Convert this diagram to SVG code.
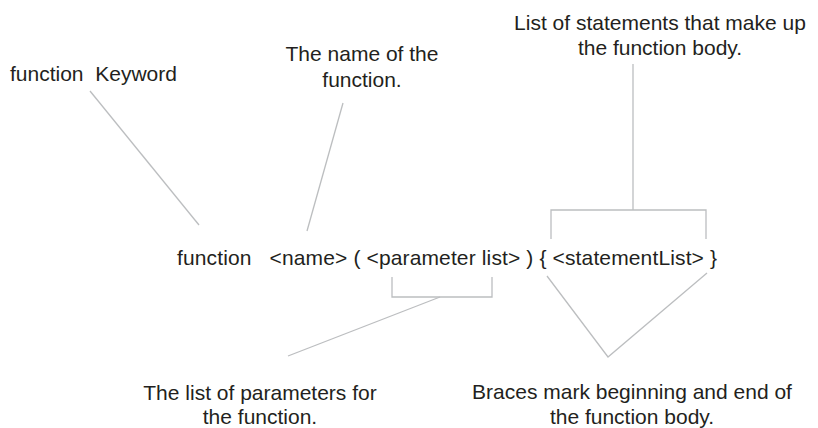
<svg xmlns="http://www.w3.org/2000/svg" width="818" height="428" viewBox="0 0 818 428">
<style>
text{font-family:"Liberation Sans",Arial,sans-serif;font-size:21px;fill:#231f20;white-space:pre}
.c{text-anchor:middle}
.ln{stroke:#bcbec0;stroke-width:1.3;fill:none}
</style>
<rect width="818" height="428" fill="#fff"/>
<g id="connectors">
<line class="ln" x1="90" y1="91" x2="199" y2="225"/>
<line class="ln" x1="343" y1="103" x2="307" y2="231"/>
<line class="ln" x1="633" y1="64" x2="633" y2="210"/>
<polyline class="ln" points="551,239 551,210 706,210 706,239"/>
<polyline class="ln" points="392,277 392,297 492,297 492,277"/>
<line class="ln" x1="440" y1="297" x2="288" y2="356"/>
<polyline class="ln" points="547,276 608,357 707,273"/>
</g>
<g id="keyword"><text x="10" y="81">function  Keyword</text></g>
<g id="name"><text class="c" x="362" y="61">The name of the</text><text class="c" x="362" y="87">function.</text></g>
<g id="statements"><text class="c" x="660" y="30">List of statements that make up</text><text class="c" x="660" y="55">the function body.</text></g>
<g id="code"><text x="177" y="265" textLength="540" lengthAdjust="spacing">function   &lt;name&gt; ( &lt;parameter list&gt; ) { &lt;statementList&gt; }</text></g>
<g id="params"><text class="c" x="260" y="400">The list of parameters for</text><text class="c" x="260" y="424">the function.</text></g>
<g id="braces"><text class="c" x="632" y="399">Braces mark beginning and end of</text><text class="c" x="632" y="424">the function body.</text></g>
</svg>
